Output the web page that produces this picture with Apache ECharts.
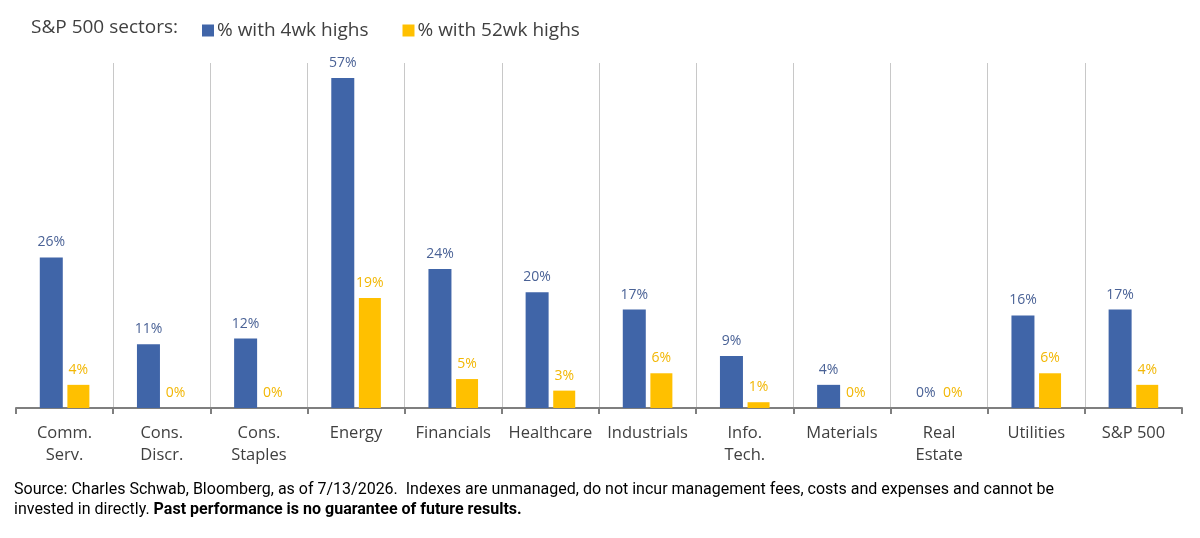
<!DOCTYPE html>
<html>
<head>
<meta charset="utf-8">
<script src="https://cdn.jsdelivr.net/npm/echarts@6/dist/echarts.min.js"></script>
<style>
  html, body { margin: 0; padding: 0; background: #fff; }
  #chart { width: 1200px; height: 538px; }
</style>
</head>
<body>
<div id="chart"></div>
<script>
var categories = ['Comm.\nServ.', 'Cons.\nDiscr.', 'Cons.\nStaples', 'Energy', 'Financials', 'Healthcare',
    'Industrials', 'Info.\nTech.', 'Materials', 'Real\nEstate', 'Utilities', 'S&P 500'];
var fourWeekHighs = [26, 11, 12, 57, 24, 20, 17, 9, 4, 0, 16, 17];
var yearHighs = [4, 0, 0, 19, 5, 3, 6, 1, 0, 0, 6, 4];

var fontName = '"Open Sans", Roboto, sans-serif';
var noteFont = 'Roboto, "Open Sans", sans-serif';
var blue = '#4065a8';
var gold = '#ffc000';

var chart = echarts.init(document.getElementById('chart'));

var option = {
    backgroundColor: '#ffffff',
    animation: false,
    textStyle: { fontFamily: fontName },
    title: {
        text: 'S&P 500 sectors:',
        left: 26,
        top: 13,
        textStyle: { fontSize: 19, fontWeight: 'normal', color: '#404040', fontFamily: fontName }
    },
    legend: {
        left: 197,
        top: 16,
        icon: 'rect',
        itemWidth: 12,
        itemHeight: 12,
        itemGap: 34,
        textStyle: { fontSize: 19, color: '#404040', padding: [0, 0, 0, -2], fontFamily: fontName },
        data: ['% with 4wk highs', '% with 52wk highs']
    },
    grid: { left: 16, right: 18, top: 63, bottom: 130 },
    xAxis: {
        type: 'category',
        data: categories,
        axisLine: { lineStyle: { color: '#7f7f7f', width: 2 } },
        axisTick: { show: true, length: 6, lineStyle: { color: '#7f7f7f', width: 2 } },
        axisLabel: { fontSize: 16.5, color: '#404040', margin: 14, lineHeight: 22, interval: 0, fontFamily: fontName },
        splitLine: { show: true, showMinLine: false, showMaxLine: false, lineStyle: { color: '#c8c8c8', width: 1 } }
    },
    yAxis: {
        type: 'value',
        min: 0,
        max: 59.6,
        show: false,
        splitLine: { show: false }
    },
    series: [
        {
            name: '% with 4wk highs',
            type: 'bar',
            data: fourWeekHighs,
            barWidth: 23,
            barGap: '20%',
            itemStyle: { color: blue },
            label: {
                show: true,
                position: 'top',
                distance: 8,
                formatter: '{c}%',
                fontSize: 14,
                color: '#4a6296',
                fontFamily: fontName
            }
        },
        {
            name: '% with 52wk highs',
            type: 'bar',
            data: yearHighs,
            barWidth: 22,
            itemStyle: { color: gold },
            label: {
                show: true,
                position: 'top',
                distance: 8,
                formatter: '{c}%',
                fontSize: 14,
                color: '#f2b705',
                fontFamily: fontName
            }
        }
    ],
    graphic: [
        {
            type: 'text',
            left: 14,
            top: 482,
            style: {
                text: '{n|Source: Charles Schwab, Bloomberg, as of 7/13/2026.  Indexes are unmanaged, do not incur management fees, costs and expenses and cannot be}\n' +
                    '{n|invested in directly. }{b|Past performance is no guarantee of future results.}',
                rich: {
                    n: { fontSize: 16, color: '#111111', lineHeight: 20, fontFamily: noteFont },
                    b: { fontSize: 16, color: '#111111', lineHeight: 20, fontWeight: 'bold', fontFamily: noteFont }
                }
            }
        }
    ]
};

chart.setOption(option);
</script>
</body>
</html>
